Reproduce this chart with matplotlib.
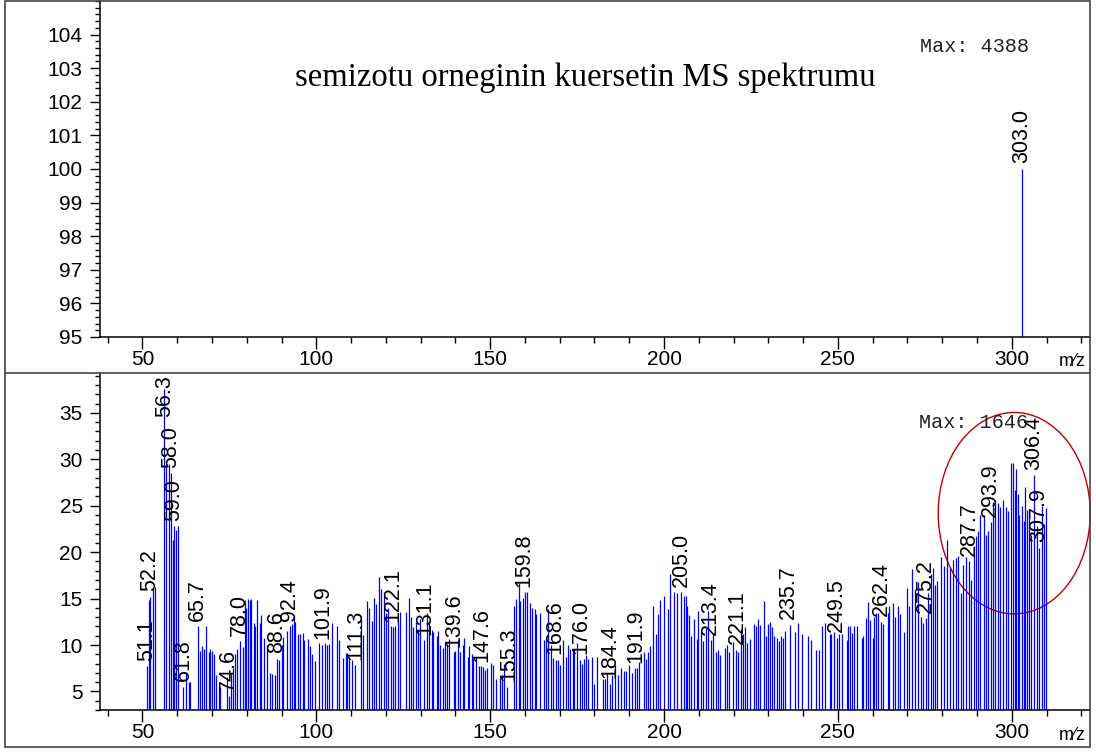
import matplotlib
matplotlib.use("Agg")
import matplotlib.pyplot as plt
from matplotlib.patches import Ellipse, Rectangle
from matplotlib.lines import Line2D
from matplotlib.ticker import MultipleLocator, FixedLocator
from matplotlib.transforms import ScaledTranslation
import numpy as np

plt.rcParams["font.family"] = ["Liberation Sans", "DejaVu Sans"]

# ---------------- data ----------------
title = "semizotu orneginin kuersetin MS spektrumu"
top_max_text = "Max: 4388"
bottom_max_text = "Max: 1646"

top_mz = [303.0]
top_intensity = [100.0]
top_labels = [303.0]

mz = [51.3, 51.9, 52.3, 53.1, 53.6, 56.3, 56.8, 57.5, 58.2, 58.8, 59.1, 59.7, 60.2,
      61.8, 62.6, 63.3, 63.8, 66.0, 66.6, 67.2, 67.7, 68.3, 69.2, 69.5, 70.0, 70.5,
      71.3, 71.9, 72.4, 74.3, 74.8, 75.5, 76.1, 76.7, 77.2, 78.0, 79.0, 79.4, 79.9,
      80.5, 80.8, 81.3, 82.0, 82.3, 83.0, 83.7, 84.2, 85.1, 85.8, 86.8, 87.4, 88.0,
      88.7, 89.4, 90.0, 90.5, 91.6, 92.4, 93.1, 93.5, 94.0, 94.7, 95.3, 96.2, 96.6,
      97.6, 98.3, 98.8, 99.5, 100.7, 101.7, 102.4, 103.0, 103.6,
      104.6, 106.0, 106.6, 107.7, 108.5, 108.9, 109.5, 110.4, 111.1, 113.0, 113.3,
      114.5, 115.2, 115.9, 116.7, 117.3, 118.1, 118.7, 119.5, 120.0, 120.7, 121.6,
      122.1, 122.6, 123.6, 124.2, 125.7, 126.7, 127.2, 127.8, 128.8, 129.3, 129.9,
      131.1, 131.7, 132.3, 133.2, 133.6, 134.6, 135.1, 135.5, 136.3, 136.9, 137.6,
      138.3, 139.5, 140.0, 140.7, 141.3, 142.1, 142.6, 143.5, 144.0, 144.8, 145.2,
      145.9, 146.9, 147.3, 147.8, 148.6, 149.2, 150.2, 150.7, 151.7, 152.8, 153.4,
      154.0, 154.9, 156.8, 157.5, 158.2, 158.7, 159.4, 160.1, 160.7, 161.5, 162.1,
      162.9, 163.3, 164.3, 165.5, 166.2, 166.7, 167.4, 168.1, 168.8, 169.6, 170.1,
      171.0, 171.7, 172.5, 172.9,
      173.7, 174.1, 175.0, 175.8, 176.3, 177.0, 177.5, 178.2, 179.2, 180.0, 180.7,
      182.5, 182.9, 183.6, 184.4, 185.1, 185.9, 186.8, 187.7, 188.5, 189.2, 189.9,
      190.9, 191.6, 192.2, 192.8, 194.1, 194.7, 195.4, 196.0, 196.9, 197.6, 198.3,
      198.9, 200.0, 201.0, 201.8, 202.9, 203.7, 204.8, 205.7, 206.2, 206.7, 207.2,
      207.9, 208.6, 209.4, 209.9, 210.5, 211.2, 212.0, 212.6, 213.4, 214.2, 215.0,
      215.6, 216.1, 217.5, 218.0, 218.7, 219.9, 220.8, 221.4, 222.0, 222.7, 223.3,
      223.9, 224.8, 225.8, 226.5, 227.0, 227.7, 228.8, 229.3, 229.9, 230.5, 231.0,
      231.7, 232.5, 233.0, 233.6, 234.2, 234.9, 236.3, 237.8, 238.6, 239.7, 241.3,
      242.3, 243.8, 244.5,
      245.4, 246.2, 247.6, 247.9, 248.9, 249.6, 250.3, 251.2, 252.5, 253.0, 253.5,
      254.1, 254.6, 255.6, 256.8, 257.3, 258.0, 258.8, 259.2, 260.0, 260.5, 261.0,
      261.5, 262.4, 263.1, 264.3, 264.8, 265.8, 266.4, 267.2, 267.9, 269.1, 270.0,
      270.5, 271.4, 272.2, 272.9, 273.9, 274.4, 275.4, 276.0, 276.7, 277.3, 277.8,
      278.5, 279.6, 280.6, 281.4, 282.1, 283.2, 284.0, 284.5, 285.3, 286.1, 286.7,
      287.7, 288.3, 289.1, 289.8, 290.3, 291.0, 291.9, 292.6, 293.2, 293.9, 294.6,
      295.3, 296.0, 296.7, 297.5, 298.2, 298.8, 299.8, 300.3, 300.8, 301.3, 301.7,
      302.2, 302.9, 303.4, 303.8, 304.5, 305.1, 305.6, 306.5, 307.2, 307.9, 308.6,
      309.3, 309.8]

intensity = [7.7, 14.9, 15.2, 16.0, 16.3, 37.6, 29.8, 29.5, 28.5, 21.3, 22.8, 22.4, 22.8,
             5.5, 7.0, 6.0, 6.0, 12.0, 9.4, 9.9, 9.6, 12.0, 9.3, 9.6, 9.4, 9.0,
             6.8, 5.3, 5.5, 6.6, 4.5, 7.0, 7.5, 9.0, 9.6, 10.4, 9.8, 14.8, 14.0,
             15.0, 14.8, 15.0, 12.4, 12.0, 14.8, 12.4, 13.2, 10.8, 10.0, 7.0, 6.9, 6.8,
             8.5, 8.4, 10.0, 10.9, 11.5, 12.0, 12.3, 13.2, 12.5, 11.2, 11.2, 11.3, 10.5,
             10.6, 9.9, 9.0, 8.3, 10.2, 10.0, 10.2, 10.0, 10.1,
             12.4, 12.0, 10.5, 8.6, 9.1, 9.1, 8.7, 8.4, 7.8, 13.1, 11.1,
             14.7, 14.0, 12.6, 15.1, 14.4, 17.3, 16.0, 15.7, 13.5, 14.0, 12.1,
             11.9, 12.0, 12.6, 13.6, 13.6, 15.1, 13.0, 11.9, 12.5, 11.6, 12.8,
             10.5, 13.4, 12.6, 11.6, 11.4, 11.0, 11.5, 10.0, 9.7, 10.3, 10.0,
             10.7, 9.2, 9.4, 10.5, 9.2, 10.0, 10.8, 8.7, 9.9, 9.0, 8.5,
             8.7, 7.7, 7.7, 7.6, 7.3, 7.5, 8.1, 7.8, 6.3, 6.4, 6.8,
             8.0, 5.5, 14.2, 15.0, 16.7, 14.7, 15.1, 15.7, 15.7, 14.5, 14.0,
             13.9, 13.3, 13.4, 10.5, 10.9, 13.9, 10.0, 8.6, 8.4, 8.4, 7.9,
             10.5, 8.7, 10.0, 9.6,
             9.5, 9.6, 10.2, 8.4, 8.0, 8.5, 8.9, 8.5, 8.7, 5.8, 8.7,
             6.3, 6.3, 7.0, 5.8, 6.8, 7.8, 6.8, 7.5, 7.2, 7.2, 7.8,
             7.0, 7.5, 7.5, 8.2, 9.2, 8.5, 9.2, 9.9, 14.2, 11.2, 13.3,
             14.8, 15.3, 13.9, 17.6, 15.7, 15.6, 15.7, 15.3, 15.3, 14.2, 13.2,
             11.0, 12.8, 10.6, 13.7, 11.4, 10.4, 11.8, 13.7, 10.5, 11.3, 9.3,
             9.5, 8.9, 9.7, 10.0, 9.2, 10.3, 9.5, 9.3, 11.7, 11.2, 11.9,
             10.2, 10.7, 12.3, 12.1, 12.8, 12.2, 14.7, 11.0, 12.3, 12.5, 11.9,
             11.0, 10.8, 10.4, 11.0, 10.8, 11.5, 12.2, 11.4, 12.4, 11.2, 11.0,
             10.5, 9.5, 9.5,
             12.1, 12.4, 11.2, 11.2, 11.4, 10.8, 11.2, 11.2, 10.5, 12.0, 12.0,
             11.3, 12.0, 12.0, 10.8, 11.0, 12.9, 14.6, 12.7, 10.8, 13.0, 13.5,
             13.4, 12.5, 12.3, 13.5, 14.2, 14.5, 13.0, 14.2, 13.3, 11.4, 16.1,
             14.2, 18.2, 16.0, 16.8, 13.0, 12.4, 12.9, 15.6, 17.6, 18.3, 16.5,
             16.9, 19.5, 18.5, 21.3, 18.3, 19.2, 19.4, 19.6, 15.6, 18.6, 19.5,
             19.0, 17.0, 20.7, 21.7, 22.3, 24.0, 24.0, 21.8, 22.3, 23.2, 25.4,
             25.6, 25.3, 24.9, 25.6, 24.9, 24.4, 29.6, 29.6, 26.7, 29.0, 26.3,
             24.0, 25.0, 23.4, 27.0, 24.5, 24.7, 21.8, 28.3, 22.8, 20.5, 25.0,
             23.0, 24.8]

peak_labels = [51.1, 52.2, 56.3, 58.0, 59.0, 61.8, 65.7, 74.6, 78.0, 88.6, 92.4,
               101.9, 111.3, 122.1, 131.1, 139.6, 147.6, 155.3, 159.8, 168.6, 176.0,
               184.4, 191.9, 205.0, 213.4, 221.1, 235.7, 249.5, 262.4, 275.2, 287.7,
               293.9, 306.4, 307.9]

x_major = [50, 100, 150, 200, 250, 300]
top_yticks = [95, 96, 97, 98, 99, 100, 101, 102, 103, 104]
bottom_yticks = [5, 10, 15, 20, 25, 30, 35]

# ---------------- layout ----------------
W, H = 1096, 753
fig = plt.figure(figsize=(W / 100, H / 100), dpi=100)


def fx(px):
    return px / W


def fy(py):
    return 1 - py / H


frame_col = "#444444"
fig.add_artist(Rectangle((fx(5), fy(747)), fx(1090) - fx(5), fy(1) - fy(747),
                         transform=fig.transFigure, fill=False, ec=frame_col, lw=1.2))
fig.add_artist(Line2D([fx(5), fx(1090)], [fy(373), fy(373)],
                      transform=fig.transFigure, color=frame_col, lw=1.2))

ax1 = fig.add_axes([fx(100), fy(337), fx(1090) - fx(100), fy(1) - fy(337)])
ax2 = fig.add_axes([fx(100), fy(710), fx(1090) - fx(100), fy(373) - fy(710)])

XLIM = (37.8, 322.5)
bar_col = "#0000ff"
lab_fs = 15.5
tick_fs = 15

for ax in (ax1, ax2):
    ax.set_xlim(*XLIM)
    for s in ("top", "right"):
        ax.spines[s].set_visible(False)
    for s in ("left", "bottom"):
        ax.spines[s].set_linewidth(1.1)
    ax.xaxis.set_major_locator(FixedLocator(x_major))
    ax.xaxis.set_minor_locator(MultipleLocator(10))
    ax.tick_params(axis="x", which="major", direction="out", length=8.5, width=1,
                   labelsize=tick_fs, pad=1)
    ax.tick_params(axis="x", which="minor", direction="out", length=4, width=1)
    ax.tick_params(axis="y", which="major", direction="out", length=7.5, width=1,
                   labelsize=tick_fs, pad=5)
    ax.tick_params(axis="y", which="minor", direction="out", length=3.5, width=1)
    ax.patch.set_alpha(0)

# top panel
ax1.set_ylim(95, 105)
ax1.yaxis.set_major_locator(FixedLocator(top_yticks))
ax1.yaxis.set_minor_locator(MultipleLocator(0.2))
ax1.vlines(top_mz, 0, top_intensity, color=bar_col, lw=0.9)

# bottom panel
ax2.set_ylim(3.0, 39.3)
ax2.yaxis.set_major_locator(FixedLocator(bottom_yticks))
ax2.yaxis.set_minor_locator(MultipleLocator(1))
ax2.vlines(mz, 0, intensity, color=bar_col, lw=0.9)

off = ScaledTranslation(0, 4 / 72, fig.dpi_scale_trans)
texts = []
for lab, h in zip(top_labels, top_intensity):
    t = ax1.text(lab, h, f"{lab:.1f}", rotation=90, ha="center", va="bottom",
                 fontsize=lab_fs, transform=ax1.transData + off)
    texts.append((ax1, t))

mz_arr = np.array(mz)
int_arr = np.array(intensity)
for lab in peak_labels:
    i = int(np.argmin(np.abs(mz_arr - lab)))
    t = ax2.text(lab, int_arr[i], f"{lab:.1f}", rotation=90, ha="center", va="bottom",
                 fontsize=lab_fs, transform=ax2.transData + off)
    texts.append((ax2, t))

# ellipse highlighting the high-mass region
ell = Ellipse((300.7, 24.2), 43.7, 21.7, fill=False, ec="#c00000", lw=1.0, clip_on=False)
ax2.add_patch(ell)

# texts
fig.text(fx(585), fy(78), title, family="Liberation Serif", fontsize=23.5,
         ha="center", va="center")
fig.text(fx(920), fy(47), top_max_text, family="Liberation Mono", fontsize=14.5,
         ha="left", va="center", color="#222222")
fig.text(fx(919), fy(423), bottom_max_text, family="Liberation Mono", fontsize=14.5,
         ha="left", va="center", color="#222222")
fig.text(fx(1072), fy(362), "m\u2044z", fontsize=13, ha="center", va="center")
fig.text(fx(1072), fy(735), "m\u2044z", fontsize=13, ha="center", va="center")

# keep labels inside the plotting area (shift down if they overflow the top)
fig.canvas.draw()
r = fig.canvas.get_renderer()
for ax, t in texts:
    bb = t.get_window_extent(r)
    top = ax.get_window_extent(r).y1 - 2
    if bb.y1 > top:
        dy = bb.y1 - top
        x0, y0 = ax.transData.transform((t.get_position()[0], t.get_position()[1]))
        _, ynew = ax.transData.inverted().transform((x0, y0 - dy))
        t.set_y(ynew)

fig.savefig("out.png", dpi=100)
